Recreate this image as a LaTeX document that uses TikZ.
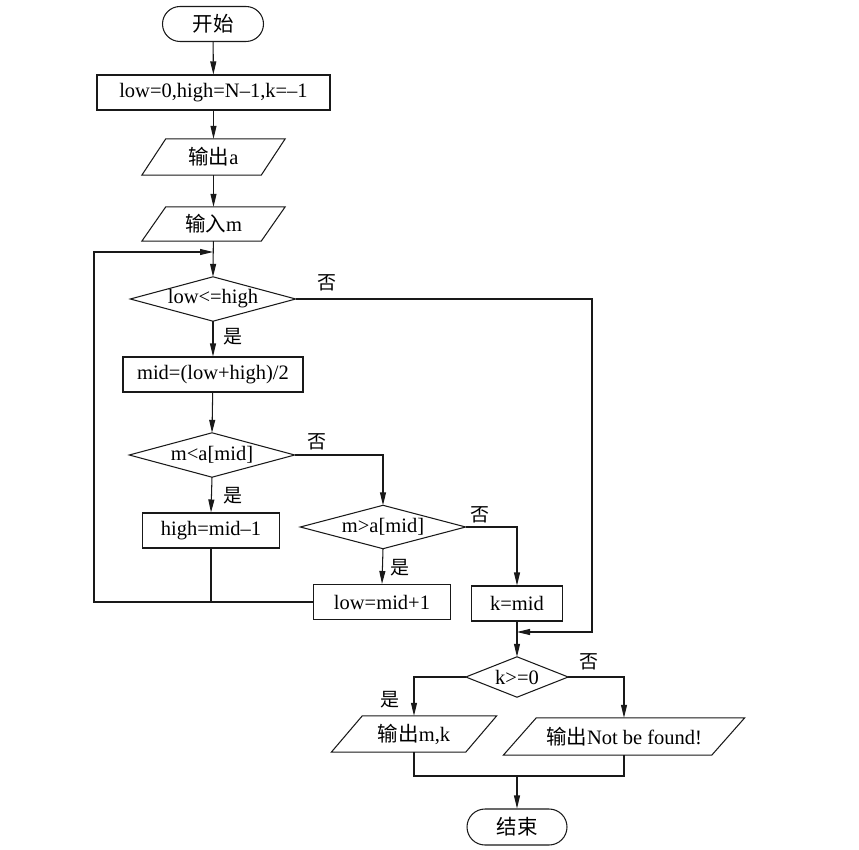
\documentclass[tikz,border=0pt]{standalone}
\usepackage{fontspec}
\setmainfont{Liberation Serif}
\newfontfamily\cjk{Noto Sans CJK SC}
\usetikzlibrary{arrows.meta,shapes.misc}
\newcommand\mypara[2]{\draw[line] ([xshift=#2]#1.north west) -- ([xshift=#2]#1.north east) -- ([xshift=-#2]#1.south east) -- ([xshift=-#2]#1.south west) -- cycle;}
\newcommand\mydiam[1]{\draw[line] (#1.north) -- (#1.east) -- (#1.south) -- (#1.west) -- cycle;}
\begin{document}
\begin{tikzpicture}[x=1pt,y=-1pt,
  line/.style={draw=black!90, line width=1.05pt},
  arr/.style={line, -{Triangle[length=13pt,width=6pt]}},
  term/.style={line, rounded rectangle, minimum height=35pt, inner sep=0pt},
  procbox/.style={line, rectangle, minimum height=35pt, inner sep=0pt},
  iobox/.style={rectangle, minimum height=36pt, inner sep=0pt},
  decision/.style={rectangle, inner sep=0pt},
  lbl/.style={inner sep=0pt, font=\cjk\fontsize{19}{22}\selectfont},
  font=\fontsize{20.5}{24}\selectfont]
\useasboundingbox (0,0) rectangle (859,850);
\node[term, minimum width=101pt] (start) at (213,24) {\cjk 开始};
\node[procbox, minimum width=233pt] (init) at (213.5,92.5) {low=0,high=N--1,k=--1};
\node[iobox, minimum width=119pt] (outa) at (213.5,157) {{\cjk 输出}a};
\mypara{outa}{12pt}
\node[iobox, minimum width=119pt, minimum height=34pt] (inm) at (213.5,224) {{\cjk 输入}m};
\mypara{inm}{12pt}
\node[decision, minimum width=165pt, minimum height=44pt] (d1) at (213,299) {low<=high};
\mydiam{d1}
\node[procbox, minimum width=180pt] (mid) at (213,374.5) {mid=(low+high)/2};
\node[decision, minimum width=165pt, minimum height=44pt] (d2) at (212,455) {m<a[mid]};
\mydiam{d2}
\node[procbox, minimum width=137pt] (high) at (211,530.5) {high=mid--1};
\node[decision, minimum width=165pt, minimum height=43pt] (d3) at (383,527) {m>a[mid]};
\mydiam{d3}
\node[procbox, minimum width=137pt] (low) at (382,602) {low=mid+1};
\node[procbox, minimum width=91pt] (kmid) at (517,603.5) {k=mid};
\node[decision, minimum width=102pt, minimum height=40pt] (d4) at (517,677) {k>=0};
\mydiam{d4}
\node[iobox, minimum width=134pt] (outmk) at (414,734) {{\cjk 输出}m,k};
\mypara{outmk}{15.5pt}
\node[iobox, minimum width=208pt, minimum height=37pt] (nbf) at (624,736.5) {{\cjk 输出}Not be found!};
\mypara{nbf}{16.5pt}
\node[term, minimum width=100pt, minimum height=36pt] (end) at (517,827) {\cjk 结束};
% junctions
\coordinate (j1) at (213,252);
\coordinate (lt) at (94,252);
\coordinate (lb) at (94,602);
\coordinate (rc) at (592,632);
\coordinate (j2) at (517,632);
\coordinate (mg) at (517,776);
% connectors
\draw[arr] (start) -- (init);
\draw[arr] (init) -- (outa);
\draw[arr] (outa) -- (inm);
\draw[arr] (inm) -- (d1.north);
\draw[arr] (d1.south) -- (mid.north);
\draw[arr] (mid) -- (d2.north);
\draw[arr] (d2.south) -- (high.north);
\draw[arr] (d2.east) -| (d3.north);
\draw[arr] (d3.south) -- (low.north);
\draw[arr] (d3.east) -| (kmid.north);
\draw[line] (high.south) -- (high.south |- lb);
\draw[arr] (low.west) -- (lb) -- (lt) -- (j1);
\draw[arr] (d1.east) -| (rc) -- (j2);
\draw[arr] (kmid.south) -- (d4.north);
\draw[arr] (d4.west) -| (outmk.north);
\draw[arr] (d4.east) -| (nbf.north);
\draw[line] (outmk.south) |- (nbf.south |- mg) -- (nbf.south);
\draw[arr] (mg) -- (end.north);
% labels
\node[lbl] (n1) at (327,283) {否};
\node[lbl] (y1) at (233,337) {是};
\node[lbl] (n2) at (317,442) {否};
\node[lbl] (y2) at (233,496) {是};
\node[lbl] (n3) at (480,515) {否};
\node[lbl] (y3) at (400,568) {是};
\node[lbl] (n4) at (589,662) {否};
\node[lbl] (y4) at (390,700) {是};
\end{tikzpicture}
\end{document}
